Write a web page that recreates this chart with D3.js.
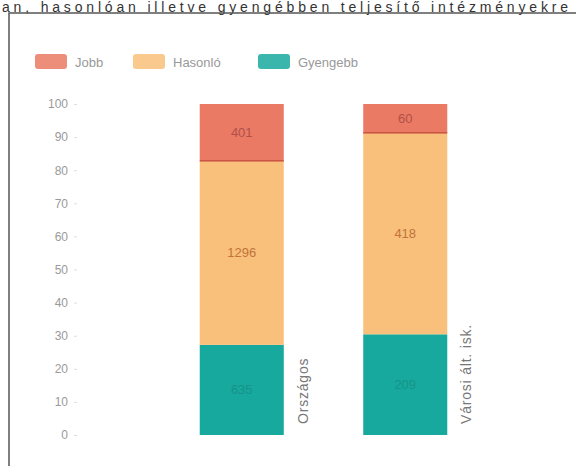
<!DOCTYPE html>
<html>
<head>
<meta charset="utf-8">
<script src="https://cdn.jsdelivr.net/npm/d3@7"></script>
<style>
  body { margin: 0; background: #fff; }
  svg { display: block; font-family: "Liberation Sans", Arial, sans-serif; }
</style>
</head>
<body>
<div id="chart"></div>
<script>
// adatok
const categories = ['Országos', 'Városi ált. isk.'];
const seriesNames = ['Gyengebb', 'Hasonló', 'Jobb'];
const gyengebb = [635, 209];
const hasonlo = [1296, 418];
const jobb = [401, 60];
const yTicks = [0, 10, 20, 30, 40, 50, 60, 70, 80, 90, 100];

const colors = {Jobb: '#ea7a64', 'Hasonló': '#f8c07a', Gyengebb: '#17a99d'};
const textColors = {Jobb: '#b0504a', 'Hasonló': '#c2733c', Gyengebb: '#16948a'};

const width = 576;
const height = 466;

const svg = d3.select('#chart')
  .append('svg')
  .attr('width', width)
  .attr('height', height);

// felső cím (a képen félig levágva)
svg.append('text')
  .attr('x', 2)
  .attr('y', 12)
  .attr('font-size', 14)
  .attr('fill', '#333')
  .attr('textLength', 566)
  .attr('lengthAdjust', 'spacing')
  .text('an, hasonlóan illetve gyengébben teljesítő intézményekre');

// keret
svg.append('path')
  .attr('d', 'M9,' + height + 'V13H' + width)
  .attr('fill', 'none')
  .attr('stroke', '#555')
  .attr('stroke-width', 1.5);

// táblázat a stackhez (százalék)
const table = categories.map((c, i) => {
  const total = gyengebb[i] + hasonlo[i] + jobb[i];
  return {
    cat: c,
    Gyengebb: gyengebb[i] / total * 100,
    'Hasonló': hasonlo[i] / total * 100,
    Jobb: jobb[i] / total * 100,
    raw: {Gyengebb: gyengebb[i], 'Hasonló': hasonlo[i], Jobb: jobb[i]}
  };
});

const stack = d3.stack().keys(seriesNames)(table);

const x = d3.scaleBand()
  .domain(categories)
  .range([160, 487])
  .paddingInner(0.486)
  .paddingOuter(0.243);

const y = d3.scaleLinear()
  .domain([0, 100])
  .range([435, 104]);

// y tengely
const yAxis = svg.append('g')
  .attr('transform', 'translate(77,0)')
  .call(d3.axisLeft(y).tickValues(yTicks).tickSize(3).tickPadding(6));
yAxis.select('.domain').remove();
yAxis.selectAll('line').attr('stroke', '#ddd');
yAxis.selectAll('text')
  .attr('fill', '#9a9a9a')
  .attr('font-size', 12)
  .attr('font-family', '"Liberation Sans", Arial, sans-serif');

// oszlopok
const layers = svg.selectAll('.layer')
  .data(stack)
  .enter()
  .append('g')
  .attr('class', 'layer');

layers.selectAll('rect')
  .data(d => d.map(p => ({key: d.key, p: p})))
  .enter()
  .append('rect')
  .attr('x', d => x(d.p.data.cat))
  .attr('width', x.bandwidth())
  .attr('y', d => y(d.p[1]))
  .attr('height', d => y(d.p[0]) - y(d.p[1]))
  .attr('fill', d => colors[d.key]);

// elválasztó vonal a piros szegmens alján
svg.selectAll('.sep')
  .data(stack[2])
  .enter()
  .append('line')
  .attr('x1', d => x(d.data.cat))
  .attr('x2', d => x(d.data.cat) + x.bandwidth())
  .attr('y1', d => y(d[0]))
  .attr('y2', d => y(d[0]))
  .attr('stroke', '#c2453a')
  .attr('stroke-width', 1.2);

layers.selectAll('.val')
  .data(d => d.map(p => ({key: d.key, p: p})))
  .enter()
  .append('text')
  .attr('x', d => x(d.p.data.cat) + x.bandwidth() / 2)
  .attr('y', d => (y(d.p[0]) + y(d.p[1])) / 2)
  .attr('dy', '0.35em')
  .attr('text-anchor', 'middle')
  .attr('font-size', 13)
  .attr('fill', d => textColors[d.key])
  .text(d => d.p.data.raw[d.key]);

// kategória feliratok
svg.selectAll('.cat')
  .data(categories)
  .enter()
  .append('text')
  .attr('transform', d => 'translate(' + (x(d) + x.bandwidth() + 19) + ',424) rotate(-90)')
  .attr('dy', '0.35em')
  .attr('font-size', 14)
  .attr('letter-spacing', 0.8)
  .attr('fill', '#777')
  .text(d => d);

// jelmagyarázat
const legendItems = ['Jobb', 'Hasonló', 'Gyengebb'];
const legendX = [35, 133, 258];
const legend = svg.selectAll('.leg')
  .data(legendItems)
  .enter()
  .append('g')
  .attr('transform', (d, i) => 'translate(' + legendX[i] + ',54)');

legend.append('rect')
  .attr('width', 32)
  .attr('height', 15)
  .attr('rx', 3)
  .attr('fill', d => colors[d])
  .attr('opacity', 0.85);

legend.append('text')
  .attr('x', 40)
  .attr('y', 8)
  .attr('dy', '0.35em')
  .attr('font-size', 13)
  .attr('fill', '#999')
  .text(d => d);
</script>
</body>
</html>
